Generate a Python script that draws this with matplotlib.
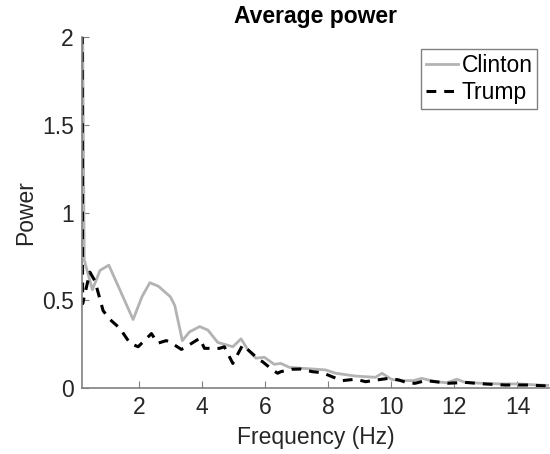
import matplotlib
matplotlib.use("Agg")
import matplotlib.pyplot as plt

plt.rcParams['font.family'] = ['Liberation Sans', 'DejaVu Sans']

# values
clinton_freq = [0.2, 0.27, 0.53, 0.77, 1.05, 1.82, 2.1, 2.35, 2.62, 3.0, 3.14, 3.38,
                3.61, 3.93, 4.19, 4.5, 4.98, 5.24, 5.45, 5.71, 5.98, 6.29, 6.5, 6.77,
                7.19, 7.61, 7.92, 8.24, 8.87, 9.5, 9.71, 10.0, 10.24, 10.7, 10.97, 11.4,
                11.76, 12.08, 12.34, 12.86, 13.5, 14.1, 14.65, 15.0]
clinton_power = [2.6, 0.73, 0.56, 0.67, 0.70, 0.39, 0.52, 0.60, 0.58, 0.52, 0.47, 0.27,
                 0.32, 0.35, 0.33, 0.26, 0.235, 0.28, 0.22, 0.17, 0.175, 0.135, 0.14, 0.118,
                 0.112, 0.107, 0.103, 0.084, 0.068, 0.061, 0.084, 0.05, 0.042, 0.042, 0.055, 0.036,
                 0.03, 0.05, 0.032, 0.027, 0.023, 0.023, 0.017, 0.015]

trump_freq = [0.2, 0.22, 0.45, 0.61, 0.87, 1.09, 1.40, 1.72, 1.98, 2.4, 2.6, 2.87, 3.0,
              3.35, 3.5, 3.93, 4.08, 4.56, 4.71, 4.98, 5.29, 5.82, 5.92, 6.24, 6.4, 6.5,
              6.87, 7.13, 7.5, 7.82, 8.13, 8.45, 8.87, 9.19, 9.71, 9.92, 10.24, 10.55,
              10.76, 11.08, 11.4, 11.81, 12.34, 12.97, 13.6, 14.34, 15.0]
trump_power = [2.6, 0.48, 0.66, 0.61, 0.44, 0.39, 0.34, 0.255, 0.235, 0.31, 0.255, 0.27, 0.26,
               0.22, 0.235, 0.283, 0.226, 0.226, 0.235, 0.14, 0.245, 0.16, 0.15, 0.103, 0.084, 0.093,
               0.107, 0.108, 0.093, 0.087, 0.064, 0.042, 0.05, 0.036, 0.05, 0.055, 0.046, 0.027,
               0.027, 0.042, 0.036, 0.027, 0.032, 0.023, 0.017, 0.017, 0.011]

x_ticks = [2, 4, 6, 8, 10, 12, 14]
y_ticks = [0, 0.5, 1, 1.5, 2]
y_labels = ['0', '0.5', '1', '1.5', '2']

fs = 16.5
text_col = '#262626'

fig = plt.figure(figsize=(5.5, 4.54), dpi=100)
ax = fig.add_axes([82 / 550, 66 / 454, 467 / 550, 351 / 454])

ax.plot(clinton_freq, clinton_power, color='#b3b3b3', lw=2.0, label='Clinton')
ax.plot(trump_freq, trump_power, color='black', lw=2.2, dashes=(3.2, 2.6), label='Trump')

ax.set_xlim(0.2, 15)
ax.set_ylim(0, 2)
ax.set_xticks(x_ticks)
ax.set_yticks(y_ticks)
ax.set_yticklabels(y_labels)

for side in ['top', 'right']:
    ax.spines[side].set_visible(False)
for side in ['left', 'bottom']:
    ax.spines[side].set_color('#808080')
    ax.spines[side].set_linewidth(1.2)
ax.tick_params(direction='in', length=5, width=0.8, color='#808080',
               labelsize=fs, labelcolor=text_col, pad=6)

ax.set_xlabel('Frequency (Hz)', fontsize=fs, color=text_col, labelpad=5)
ax.set_ylabel('Power', fontsize=fs, color=text_col, labelpad=3)
ax.set_title('Average power', fontsize=fs, fontweight='bold', pad=10)

leg = ax.legend(loc='upper right', bbox_to_anchor=(537 / 550, 405 / 454),
                bbox_transform=fig.transFigure, borderaxespad=0, fontsize=fs,
                handlelength=1.4, handletextpad=0.15, labelspacing=0.2,
                borderpad=0.2, fancybox=False, framealpha=1)
leg.get_frame().set_edgecolor('#808080')
leg.get_frame().set_linewidth(1.0)

fig.savefig('out.png', dpi=100)
